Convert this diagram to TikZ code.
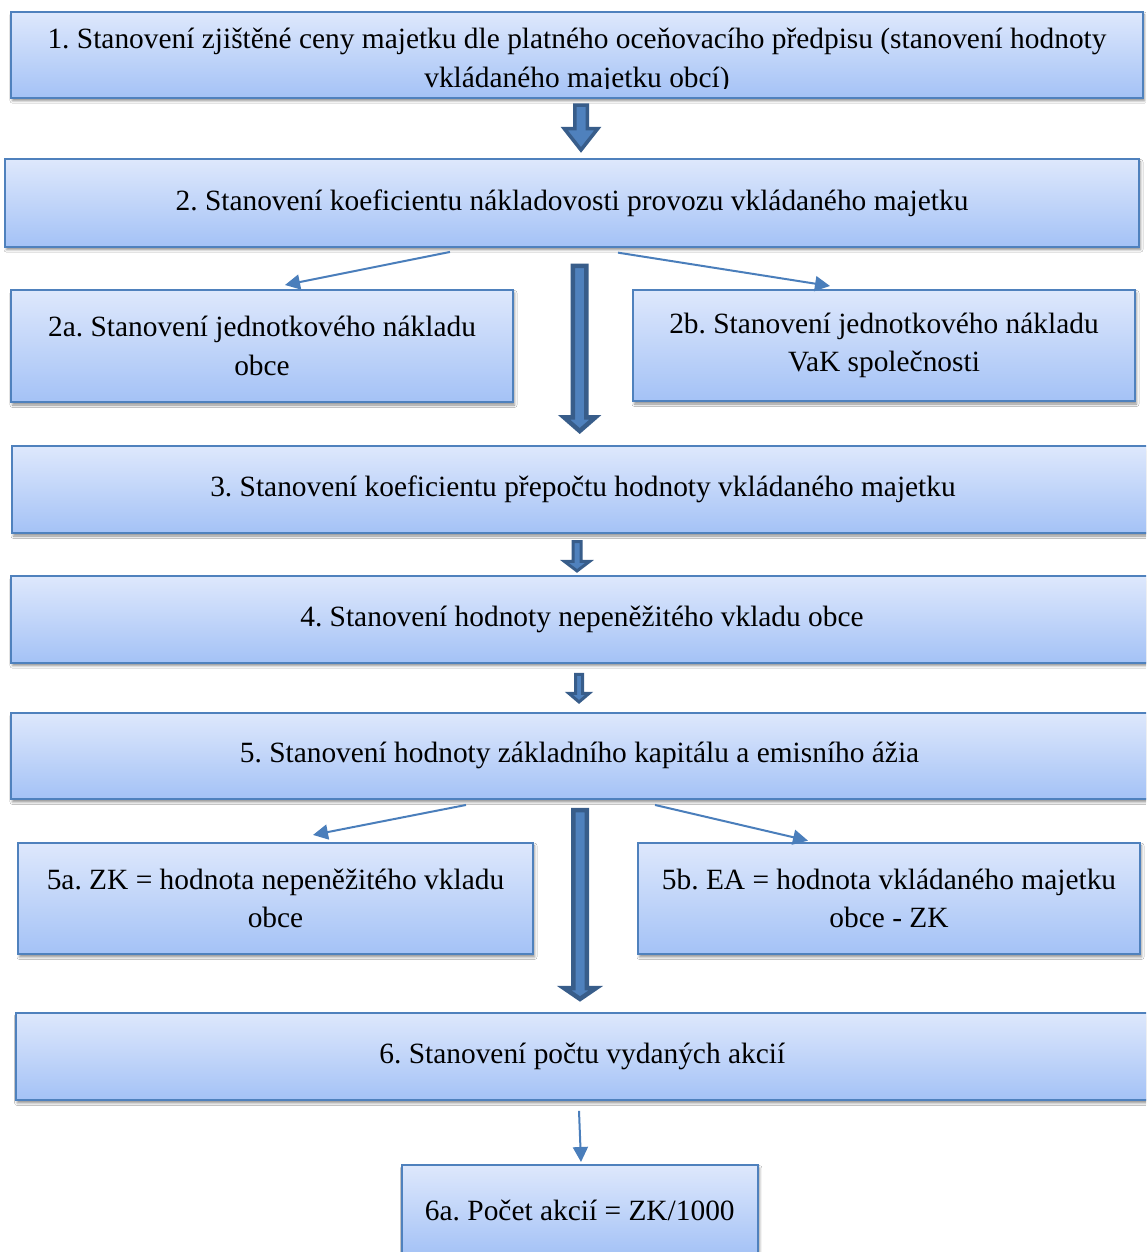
\documentclass[tikz,border=0pt]{standalone}
\usepackage{fontspec}
\setmainfont{Liberation Serif}
\usetikzlibrary{calc,arrows.meta,shadows.blur}

\definecolor{boxedge}{RGB}{79,129,189}
\definecolor{boxtop}{RGB}{222,232,252}
\definecolor{boxbot}{RGB}{164,194,246}
\definecolor{arrowedge}{RGB}{56,93,138}
\definecolor{arrowfill}{RGB}{79,129,189}
\definecolor{thinarrowcol}{RGB}{74,126,187}

\begin{document}
\frenchspacing
\begin{tikzpicture}[x=1pt,y=-1pt,
  boxfont/.style={font=\fontsize{29.4}{38.5}\selectfont},
  stepbox/.style={draw=boxedge, line width=2pt, top color=boxtop, bottom color=boxbot,
    inner sep=0pt, align=center, boxfont,
    blur shadow={shadow xshift=1.5pt, shadow yshift=-3pt, shadow blur radius=2.5pt, shadow opacity=45}},
  textonly/.style={inner sep=0pt, align=center, boxfont},
  thinarrow/.style={draw=thinarrowcol, line width=2pt, -{Triangle[length=15pt,width=15pt]}},
  % vertical block arrow: shaft half-width, head half-width, head length
  blockarrow/.style n args={3}{draw=arrowedge, fill=arrowfill, line join=miter,
    to path={let \p1=(\tikztostart), \p2=(\tikztotarget) in
      (\x1-#1,\y1) -- (\x1+#1,\y1) -- (\x1+#1,\y2+#3) -- (\x1+#2,\y2+#3) -- (\x1,\y2)
      -- (\x1-#2,\y2+#3) -- (\x1-#1,\y2+#3) -- cycle}}
]
\clip (0,0) rectangle (1146,1252);
\fill[white] (0,0) rectangle (1146,1252);

% process steps
\node[stepbox, minimum width=1132pt, minimum height=86pt] (b1) at (577,54.7) {};
\begin{scope}
  \clip (12,12) rectangle (1142,88.5);
  \node[textonly, anchor=north] (t1) at (577,26.5)
    {\rule{0pt}{22pt}1. Stanovení zjištěné ceny majetku dle platného oceňovacího předpisu (stanovení hodnoty\\vkládaného majetku obcí)};
\end{scope}

\node[stepbox, minimum width=1134pt, minimum height=87.7pt] (b2) at (572,202.8)
  {2. Stanovení koeficientu nákladovosti provozu vkládaného majetku};
\node[stepbox, minimum width=502pt, minimum height=112pt] (b2a) at (262,346)
  {2a. Stanovení jednotkového nákladu\\obce};
\node[stepbox, minimum width=502pt, minimum height=111pt] (b2b) at (884,345.5)
  {2b. Stanovení jednotkového nákladu\\VaK společnosti};
\node[stepbox, minimum width=1142pt, minimum height=87pt] (b3) at (583,489.5)
  {3. Stanovení koeficientu přepočtu hodnoty vkládaného majetku};
\node[stepbox, minimum width=1142pt, minimum height=86.7pt] (b4) at (582,619.3)
  {4. Stanovení hodnoty nepeněžitého vkladu obce};
\node[stepbox, minimum width=1137pt, minimum height=86.3pt] (b5) at (579.5,755.8)
  {5. Stanovení hodnoty základního kapitálu a emisního ážia};
\node[stepbox, minimum width=515pt, minimum height=111.3pt] (b5a) at (275.5,898.3)
  {5a. ZK = hodnota nepeněžitého vkladu\\obce};
\node[stepbox, minimum width=502pt, minimum height=111.3pt] (b5b) at (889,898.3)
  {5b. EA = hodnota vkládaného majetku\\obce - ZK};
\node[stepbox, minimum width=1133.3pt, minimum height=87.3pt] (b6) at (582.3,1056.3)
  {6. Stanovení počtu vydaných akcií};
\node[stepbox, minimum width=356.3pt, minimum height=90pt] (b6a) at (579.8,1210)
  {6a. Počet akcií = ZK/1000};

% block arrows along the main flow
\draw[blockarrow={6.25}{16.75}{21.3}, line width=3.5pt]
  ($(b1.south)+(4,6.5)$) to ($(b2.north)+(9,-8)$);
\draw[blockarrow={6.75}{15.75}{13.75}, line width=4.5pt]
  ($(b2.south)+(7.7,18.3)$) to ($(b3.north)+(-3.3,-14)$);
\draw[blockarrow={4}{12.5}{9.5}, line width=3pt]
  ($(b3.south)+(-6,7.5)$) to ($(b4.north)+(-5,-4)$);
\draw[blockarrow={3.5}{10}{8.5}, line width=3pt]
  ($(b4.south)+(-3,10.8)$) to ($(b5.north)+(-0.5,-9.7)$);
\draw[blockarrow={6.75}{15.75}{10.75}, line width=4.5pt]
  ($(b5.south)+(0.5,10.25)$) to ($(b6.north)+(-2.3,-12.7)$);

% thin arrows to the sub-steps
\draw[thinarrow] ($(b2.south)+(-122,4.3)$) -- ($(b2a.north)+(23,-4)$);
\draw[thinarrow] ($(b2.south)+(46,5)$) -- ($(b2b.north)+(-54,-3)$);
\draw[thinarrow] ($(b5.south)+(-113.5,5)$) -- ($(b5a.north)+(37.5,-6.7)$);
\draw[thinarrow] ($(b5.south)+(75.5,5)$) -- ($(b5b.north)+(-81,-1)$);
\draw[thinarrow] ($(b6.south)+(-3.3,10)$) -- ($(b6a.north)+(1.2,-2)$);
\end{tikzpicture}
\end{document}
